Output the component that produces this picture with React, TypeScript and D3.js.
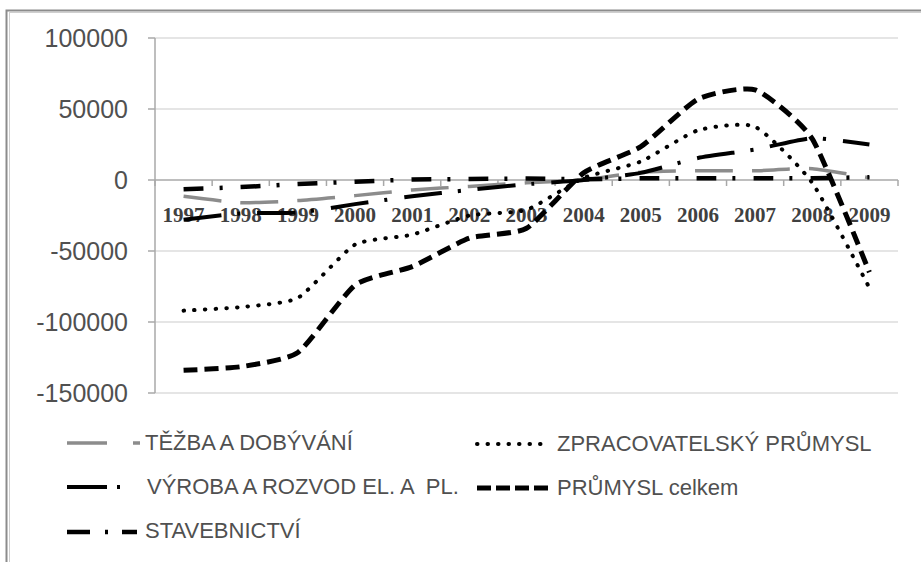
import React from "react";
import * as d3 from "d3";

const years = ["1997","1998","1999","2000","2001","2002","2003","2004","2005","2006","2007","2008","2009"];
const yTicks = [-150000, -100000, -50000, 0, 50000, 100000];

const tezba = [-11500, -16000, -14500, -11000, -7000, -4500, -2000, 0, 5500, 6500, 6500, 8000, 1500];
const zpracovatelsky = [-92000, -89500, -83000, -45500, -38500, -25000, -21000, 1500, 13000, 35000, 37500, -2000, -76000];
const vyroba = [-28000, -23500, -23000, -17000, -11500, -7000, -3000, 0, 5000, 15500, 21500, 29500, 25000];
const prumysl = [-134000, -131500, -121500, -74000, -61000, -41000, -34000, 5000, 23500, 57000, 63500, 29000, -65000];
const stavebnictvi = [-6500, -5000, -2800, -1200, 300, 700, 1000, 500, 1200, 1200, 1200, 1200, 2000];

const seriesNames = [
  "TĚŽBA A DOBÝVÁNÍ",
  "ZPRACOVATELSKÝ PRŮMYSL",
  "VÝROBA A ROZVOD EL. A  PL.",
  "PRŮMYSL celkem",
  "STAVEBNICTVÍ",
];

const W = 921, H = 562;
const plotL = 155, plotR = 898, plotT = 38, plotB = 393;

const styles = [
  { color: "#8c8c8c", width: 3.5, dash: "38 19", cap: "butt", legendDash: "40 26 7 100" },
  { color: "#000", width: 4, dash: "0.5 10.2", cap: "round", legendDash: "0.5 10" },
  { color: "#000", width: 4, dash: "38 16 3 17", cap: "butt", legendDash: "40 10 3 100" },
  { color: "#000", width: 5, dash: "14 7", cap: "butt", legendDash: "14 5" },
  { color: "#000", width: 4.5, dash: "20 16 3 18", cap: "butt", legendDash: "23 15 3 14 15 100" },
];

export default function App() {
  const x = d3.scaleBand<string>().domain(years).range([plotL, plotR]).paddingInner(0).paddingOuter(0);
  const y = d3.scaleLinear().domain([-150000, 100000]).range([plotB, plotT]);
  const cx = (yr: string) => (x(yr) as number) + x.bandwidth() / 2;
  const data = [tezba, zpracovatelsky, vyroba, prumysl, stavebnictvi];
  const line = d3
    .line<number>()
    .x((_, i) => cx(years[i]))
    .y((v) => y(v))
    .curve(d3.curveCardinal.tension(0.45));

  const boundaries = years.map((yr) => x(yr) as number).concat([plotR]);

  const legendItems = [
    { idx: 0, sx: 67, tx: 145, ly: 443, ty: 450 },
    { idx: 1, sx: 477, tx: 557, ly: 444, ty: 451 },
    { idx: 2, sx: 67, tx: 147, ly: 487, ty: 494 },
    { idx: 3, sx: 477, tx: 557, ly: 488, ty: 495 },
    { idx: 4, sx: 67, tx: 145, ly: 532, ty: 538 },
  ];
  const legendLen = [73, 70, 55, 73, 73];

  return (
    <div style={{ position: "fixed", left: 0, top: 0 }}>
      <svg width={W} height={H} style={{ display: "block", background: "#fff" }}>
        <rect x={6.5} y={10.5} width={1000} height={1000} fill="#fff" stroke="#8c8c8c" strokeWidth={2} />
        <rect x={9.5} y={12.5} width={1000} height={1000} fill="none" stroke="#cfcfcf" strokeWidth={1} />
        {yTicks.map((t) => (
          <line key={t} x1={plotL} x2={plotR} y1={y(t)} y2={y(t)} stroke={t === 0 ? "#a8a8a8" : "#dcdcdc"} strokeWidth={1.5} />
        ))}
        <line x1={plotL} x2={plotL} y1={plotT} y2={plotB} stroke="#a8a8a8" strokeWidth={1.5} />
        {yTicks.map((t) => (
          <line key={"yt" + t} x1={plotL - 7} x2={plotL} y1={y(t)} y2={y(t)} stroke="#a8a8a8" strokeWidth={1.5} />
        ))}
        {yTicks.map((t) => (
          <text key={"yl" + t} x={128} y={y(t) + 9} textAnchor="end" fontFamily="'Liberation Sans', Arial, sans-serif" fontSize={25} fill="#505050">
            {t}
          </text>
        ))}
        {boundaries.map((b, i) => (
          <line key={"xt" + i} x1={b} x2={b} y1={y(0)} y2={y(0) + 6} stroke="#a8a8a8" strokeWidth={1.5} />
        ))}
        {years.map((yr) => (
          <text key={"xl" + yr} x={cx(yr)} y={222} textAnchor="middle" fontFamily="'Liberation Serif', serif" fontWeight="bold" fontSize={21} fill="#404040">
            {yr}
          </text>
        ))}
        {data.map((d, i) => (
          <path
            key={"s" + i}
            d={line(d) || ""}
            fill="none"
            stroke={styles[i].color}
            strokeWidth={styles[i].width}
            strokeDasharray={styles[i].dash}
            strokeLinecap={styles[i].cap as any}
          />
        ))}
        {legendItems.map((it) => (
          <g key={"lg" + it.idx}>
            <line
              x1={it.sx}
              x2={it.sx + legendLen[it.idx]}
              y1={it.ly}
              y2={it.ly}
              stroke={styles[it.idx].color}
              strokeWidth={styles[it.idx].width}
              strokeDasharray={styles[it.idx].legendDash}
              strokeLinecap={styles[it.idx].cap as any}
            />
            <text x={it.tx} y={it.ty} fontFamily="'Liberation Sans', Arial, sans-serif" fontSize={22} fill="#505050" style={{ whiteSpace: "pre" }}>
              {seriesNames[it.idx]}
            </text>
          </g>
        ))}
      </svg>
    </div>
  );
}
